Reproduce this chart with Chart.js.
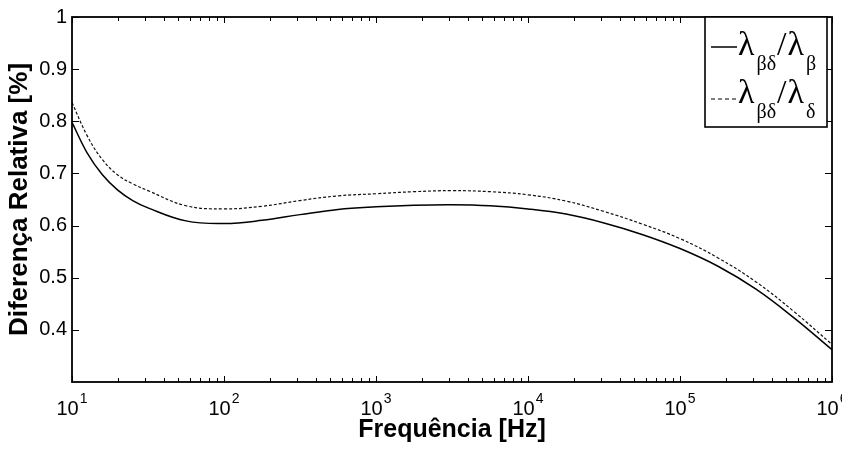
<!DOCTYPE html>
<html>
<head>
<meta charset="utf-8">
<script src="https://cdn.jsdelivr.net/npm/chart.js@4.4.1/dist/chart.umd.min.js"></script>
<style>
  html, body { margin: 0; padding: 0; background: #fff; }
</style>
</head>
<body>
<canvas id="diffChart" width="842" height="456"></canvas>
<script>
// Frequency points (Hz)
const freqHz = [10, 12.6, 15.8, 20, 25.1, 31.6, 56.2, 100, 178, 316, 562, 1000, 1778, 3162, 5623,
    10000, 17783, 31623, 56234, 100000, 177828, 316228, 562341, 1000000];

// lambda_bd / lambda_b (solid)
const ratioBeta = [0.798, 0.739, 0.698, 0.668, 0.648, 0.634, 0.609, 0.604, 0.610, 0.621, 0.631, 0.636,
    0.639, 0.640, 0.638, 0.632, 0.622, 0.605, 0.583, 0.556, 0.522, 0.478, 0.423, 0.362];

// lambda_bd / lambda_d (dashed)
const ratioDelta = [0.836, 0.772, 0.727, 0.697, 0.680, 0.667, 0.638, 0.632, 0.637, 0.648, 0.657, 0.661,
    0.665, 0.667, 0.665, 0.659, 0.647, 0.627, 0.603, 0.575, 0.538, 0.492, 0.435, 0.372];

const decades = [1, 2, 3, 4, 5, 6];
const yTicks = [0.4, 0.5, 0.6, 0.7, 0.8, 0.9, 1];

const toPoints = (ys) => freqHz.map((f, i) => ({ x: f, y: ys[i] }));

// Inner ticks, frame, 10^n labels and the boxed legend (MATLAB look)
const matlabFrame = {
    id: 'matlabFrame',
    afterDraw(chart) {
        const ctx = chart.ctx;
        const a = chart.chartArea;
        const xs = chart.scales.x;
        const ys = chart.scales.y;
        ctx.save();
        ctx.strokeStyle = '#000';

        // ticks on x (bottom + top)
        ctx.lineWidth = 1;
        for (let d = 1; d <= 6; d++) {
            for (let m = 1; m <= 9; m++) {
                const v = m * Math.pow(10, d);
                if (v > 1e6) break;
                const px = Math.round(xs.getPixelForValue(v)) + 0.5;
                const len = m === 1 ? 6 : 4;
                ctx.beginPath();
                ctx.moveTo(px, a.bottom);
                ctx.lineTo(px, a.bottom - len);
                ctx.moveTo(px, a.top);
                ctx.lineTo(px, a.top + len);
                ctx.stroke();
            }
        }
        // ticks on y (left + right)
        yTicks.forEach(v => {
            const py = Math.round(ys.getPixelForValue(v)) + 0.5;
            ctx.beginPath();
            ctx.moveTo(a.left, py);
            ctx.lineTo(a.left + 7, py);
            ctx.moveTo(a.right, py);
            ctx.lineTo(a.right - 7, py);
            ctx.stroke();
        });

        // frame
        ctx.lineWidth = 1.8;
        ctx.strokeRect(a.left, a.top, a.right - a.left, a.bottom - a.top);

        // decade labels 10^n
        ctx.fillStyle = '#000';
        ctx.textBaseline = 'alphabetic';
        ctx.textAlign = 'left';
        decades.forEach(d => {
            const px = xs.getPixelForValue(Math.pow(10, d));
            ctx.font = '20px "Liberation Sans", Arial, sans-serif';
            const wBase = ctx.measureText('10').width;
            ctx.font = '14px "Liberation Sans", Arial, sans-serif';
            const wExp = ctx.measureText(String(d)).width;
            const x0 = px - (wBase + wExp + 1) / 2;
            ctx.font = '20px "Liberation Sans", Arial, sans-serif';
            ctx.fillText('10', x0, 415);
            ctx.font = '14px "Liberation Sans", Arial, sans-serif';
            ctx.fillText(String(d), x0 + wBase + 1, 403);
        });

        // legend box
        const lx = 705, ly = 17, lw = 122, lh = 110;
        ctx.fillStyle = '#fff';
        ctx.fillRect(lx, ly, lw, lh);
        ctx.lineWidth = 1.6;
        ctx.strokeRect(lx, ly, lw, lh);

        const entries = [
            { sub: 'β', dash: [], width: 1.5, line: 47, base: 55 },
            { sub: 'δ', dash: [4, 3], width: 1, line: 99, base: 103 }
        ];
        const big = '34px "Liberation Serif", "Times New Roman", serif';
        const small = '20px "Liberation Serif", "Times New Roman", serif';
        entries.forEach(e => {
            ctx.setLineDash(e.dash);
            ctx.lineWidth = e.width;
            ctx.beginPath();
            ctx.moveTo(711, e.line);
            ctx.lineTo(737, e.line);
            ctx.stroke();
            ctx.setLineDash([]);

            ctx.fillStyle = '#000';
            const subBase = e.base + 15;
            let x = 738;
            ctx.font = big; ctx.fillText('λ', x, e.base); x += ctx.measureText('λ').width + 2;
            ctx.font = small; ctx.fillText('βδ', x, subBase); x += ctx.measureText('βδ').width + 1;
            ctx.font = big; ctx.fillText('/', x, e.base); x += ctx.measureText('/').width + 1;
            ctx.fillText('λ', x, e.base); x += ctx.measureText('λ').width + 2;
            ctx.font = small; ctx.fillText(e.sub, x, subBase);
        });
        ctx.restore();
    }
};

const ctx = document.getElementById('diffChart').getContext('2d');
const diffChart = new Chart(ctx, {
    type: 'line',
    data: {
        datasets: [{
            label: 'λβδ/λβ',
            data: toPoints(ratioBeta),
            borderColor: '#000',
            borderWidth: 1.5,
            pointRadius: 0,
            tension: 0.4,
            fill: false
        }, {
            label: 'λβδ/λδ',
            data: toPoints(ratioDelta),
            borderColor: '#111',
            borderWidth: 1.2,
            borderDash: [3, 2],
            pointRadius: 0,
            tension: 0.4,
            fill: false
        }]
    },
    options: {
        responsive: false,
        animation: false,
        layout: {
            padding: { top: 14, right: 10, left: 0, bottom: 0 }
        },
        scales: {
            x: {
                type: 'logarithmic',
                min: 10,
                max: 1000000,
                grid: { display: false, drawTicks: false },
                border: { display: false },
                ticks: { display: false },
                title: {
                    display: true,
                    text: 'Frequência [Hz]',
                    color: '#000',
                    font: { family: '"Liberation Sans", Arial, sans-serif', size: 25, weight: 'bold' },
                    padding: { top: 0, bottom: 11 }
                },
                afterFit: function(scale) {
                    scale.height = 74;
                }
            },
            y: {
                type: 'linear',
                min: 0.3,
                max: 1,
                grid: { display: false, drawTicks: false },
                border: { display: false },
                ticks: {
                    stepSize: 0.1,
                    padding: 5,
                    color: '#000',
                    font: { family: '"Liberation Sans", Arial, sans-serif', size: 20 },
                    callback: function(value) {
                        if (value < 0.35) return '';
                        return String(+value.toFixed(1));
                    }
                },
                title: {
                    display: true,
                    text: 'Diferença Relativa [%]',
                    color: '#000',
                    font: { family: '"Liberation Sans", Arial, sans-serif', size: 26, weight: 'bold' },
                    padding: { top: 4, bottom: 0 }
                },
                afterFit: function(scale) {
                    scale.width = 72;
                }
            }
        },
        plugins: {
            legend: { display: false },
            tooltip: { enabled: false }
        }
    },
    plugins: [matlabFrame]
});
</script>
</body>
</html>
